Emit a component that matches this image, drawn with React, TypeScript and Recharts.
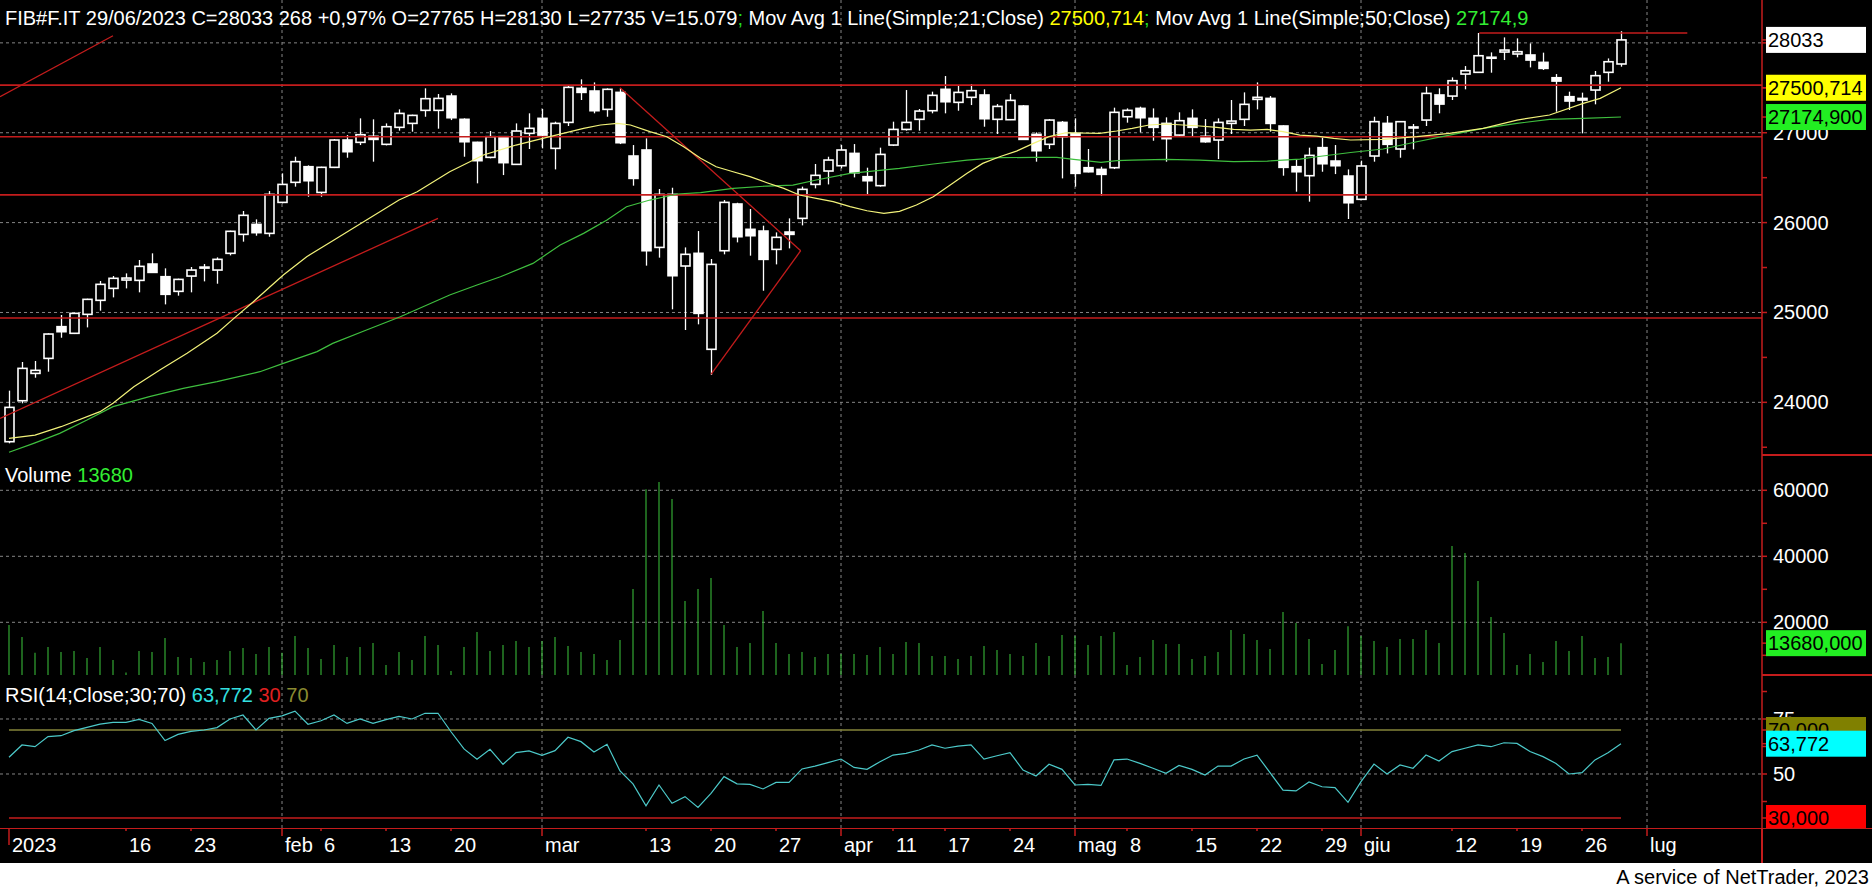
import React from 'react'
import { Bar, CartesianGrid, ComposedChart, Line, ReferenceLine, XAxis, YAxis } from 'recharts'

const FONT = "'Liberation Sans', Arial, sans-serif"
const RED = '#c41c1c'
const GRID = '#858585'
const YELLOW_MA = '#f2f27a'
const GREEN_MA = '#3fbf3f'
const VOL_GREEN = '#3cc83c'
const RSI_CYAN = '#4cc9c9'
const OLIVE = '#85853a'

const W = 1872
const AXIS_W = 110
const X_DOMAIN: [number, number] = [-0.6923, 134.846]

// daily OHLC, 3 Jan .. 29 Jun 2023
const OPEN = [
  23562, 24018, 24322, 24489, 24842, 24768, 24979, 25135, 25268, 25361,
  25357, 25539, 25398, 25235, 25405, 25500, 25472, 25658, 25869, 25980,
  25880, 26225, 26448, 26622, 26336, 26615, 26919, 26893, 26960, 26871,
  27060, 27104, 27249, 27249, 27408, 27149, 26893, 26726, 26956, 26648,
  26993, 27160, 26826, 27115, 27494, 27464, 27260, 27449, 26741, 26808,
  25724, 26314, 25517, 25658, 24590, 25687, 26207, 25925, 25906, 25702,
  25895, 26047, 26425, 26574, 26633, 26770, 26511, 26411, 26863, 27037,
  27149, 27245, 27483, 27338, 27394, 27420, 27149, 27145, 27297, 26982,
  26871, 27115, 26993, 26611, 26592, 26611, 27178, 27271, 27160, 27104,
  26974, 27160, 26960, 26919, 27104, 27149, 27371, 27382, 27075, 26622,
  26522, 26834, 26685, 26518, 26259, 26741, 27104, 26819, 27060, 27141,
  27420, 27408, 27653, 27672, 27836, 27898, 27876, 27865, 27783, 27612,
  27401, 27364, 27475, 27672, 27765,
]
const HIGH = [
  24130, 24449, 24460, 24768, 24972, 24997, 25153, 25350, 25406, 25435,
  25584, 25658, 25491, 25376, 25506, 25539, 25613, 25910, 26129, 26036,
  26351, 26548, 26733, 26637, 26622, 26930, 26974, 27160, 27149, 27104,
  27260, 27201, 27494, 27431, 27438, 27160, 26900, 27019, 26963, 27104,
  27216, 27264, 27123, 27520, 27594, 27560, 27494, 27494, 26863, 26937,
  26374, 26388, 25724, 25906, 25595, 26251, 26221, 26151, 25966, 25891,
  26047, 26400, 26652, 26733, 26863, 26874, 26611, 26834, 27123, 27475,
  27264, 27457, 27631, 27520, 27542, 27483, 27319, 27431, 27308, 27004,
  27152, 27130, 27160, 26819, 26622, 27279, 27271, 27290, 27271, 27171,
  27227, 27260, 27152, 27160, 27364, 27449, 27560, 27408, 27082, 26704,
  26834, 26945, 26863, 26592, 26689, 27178, 27186, 27130, 27097, 27512,
  27494, 27616, 27742, 28110, 27894, 28061, 28050, 27994, 27891, 27653,
  27457, 27446, 27687, 27827, 28130,
]
const LOW = [
  23544, 23989, 24274, 24341, 24719, 24760, 24834, 25020, 25168, 25268,
  25224, 25443, 25090, 25187, 25224, 25346, 25320, 25635, 25788, 25854,
  25843, 26214, 26400, 26288, 26288, 26607, 26722, 26863, 26678, 26859,
  27023, 27012, 27178, 27045, 27141, 26733, 26437, 26715, 26529, 26641,
  26819, 26826, 26592, 27075, 27364, 27216, 27178, 26874, 26411, 25521,
  25610, 25035, 24805, 24868, 24304, 25647, 25780, 25632, 25242, 25535,
  25713, 25969, 26381, 26425, 26604, 26503, 26314, 26400, 26852, 27023,
  27023, 27216, 27216, 27245, 27308, 27067, 26986, 27141, 26919, 26678,
  26819, 26492, 26400, 26559, 26299, 26596, 27112, 27004, 26911, 26678,
  26963, 26956, 26889, 26707, 26986, 27075, 27260, 27012, 26522, 26344,
  26233, 26566, 26540, 26040, 26251, 26678, 26770, 26722, 26815, 27075,
  27216, 27364, 27483, 27668, 27668, 27809, 27839, 27727, 27698, 27234,
  27253, 26993, 27316, 27568, 27735,
]
const CLOSE = [
  23944, 24378, 24356, 24760, 24786, 24990, 25146, 25313, 25380, 25383,
  25513, 25446, 25202, 25368, 25472, 25505, 25591, 25903, 26081, 25888,
  26314, 26425, 26678, 26466, 26615, 26919, 26789, 26978, 26926, 27067,
  27215, 27193, 27379, 27382, 27167, 26900, 26689, 26956, 26667, 27019,
  27049, 26974, 27104, 27505, 27449, 27245, 27483, 26889, 26492, 25687,
  26314, 25409, 25647, 24990, 25535, 26225, 25843, 25854, 25591, 25836,
  25869, 26370, 26526, 26696, 26808, 26555, 26466, 26759, 27037, 27115,
  27241, 27416, 27345, 27449, 27468, 27156, 27293, 27360, 26926, 26800,
  27141, 26956, 26548, 26566, 26537, 27227, 27249, 27167, 27060, 26934,
  27134, 27060, 26900, 27115, 27130, 27316, 27394, 27104, 26615, 26566,
  26748, 26655, 26633, 26221, 26630, 27123, 26871, 27123, 27064, 27438,
  27319, 27579, 27690, 27857, 27840, 27920, 27902, 27809, 27716, 27575,
  27353, 27382, 27635, 27790, 28033,
]
const VOLUME = [
  19180, 15550, 10800, 12520, 11000, 11310, 9180, 12520, 8580, 4800,
  11310, 11000, 15240, 9490, 9180, 7970, 8580, 11310, 12210, 10400,
  12520, 10800, 15850, 12210, 8880, 13120, 9490, 12520, 13730, 7060,
  11000, 8580, 15850, 13120, 5250, 12520, 17060, 11310, 13120, 14340,
  12520, 14340, 15550, 12820, 11000, 10400, 8580, 14640, 30090, 60300,
  62520, 57370, 26470, 30090, 33430, 19180, 12520, 13730, 23430, 13730,
  10400, 11000, 9490, 10400, 10400, 10400, 10090, 12520, 10400, 14030,
  13730, 9790, 9790, 8880, 9790, 12820, 11610, 10400, 9790, 13730,
  9790, 16150, 15850, 13120, 15850, 17060, 7060, 9490, 14640, 13430,
  13430, 8880, 9790, 11000, 17670, 16450, 14640, 11910, 23120, 19790,
  14940, 7360, 11610, 18780, 15850, 14340, 12520, 14940, 14940, 17670,
  13730, 43100, 40980, 32500, 21590, 16760, 7060, 10400, 7970, 14340,
  11310, 15850, 9180, 9490, 13680,
]
const RSI = [
  57.6, 63.2, 62.4, 67.0, 67.4, 69.7, 71.2, 72.7, 73.5, 73.5,
  74.8, 73.0, 65.2, 68.0, 69.4, 70.0, 71.1, 75.0, 76.8, 70.0,
  75.3, 76.4, 78.6, 72.6, 74.2, 76.8, 73.0, 75.0, 73.0, 74.7,
  76.2, 75.0, 77.6, 77.6, 69.2, 61.4, 56.7, 61.2, 54.4, 59.7,
  60.5, 58.5, 60.6, 66.7, 64.7, 60.0, 63.5, 51.4, 45.5, 35.5,
  45.0, 36.7, 39.7, 34.8, 41.2, 48.8, 45.5, 45.3, 43.2, 46.2,
  46.2, 52.3, 53.6, 55.2, 56.8, 53.0, 52.1, 55.6, 58.6, 59.4,
  60.9, 63.2, 61.7, 62.7, 63.2, 56.8, 58.3, 59.7, 51.8, 49.1,
  54.4, 52.1, 45.0, 45.3, 44.8, 56.4, 56.8, 54.8, 52.6, 50.3,
  53.9, 52.1, 49.5, 53.6, 53.6, 56.8, 58.6, 50.6, 42.7, 42.3,
  46.4, 44.2, 43.8, 37.1, 46.5, 54.5, 50.0, 54.1, 52.6, 58.6,
  55.9, 60.2, 61.7, 63.2, 62.4, 64.2, 63.9, 60.2, 57.9, 54.8,
  50.0, 50.6, 56.4, 59.7, 63.772,
]

// moving averages: [bar index, value]
const MA21: [number, number][] = [
  [0, 23599], [2, 23636], [4, 23729], [7, 23896], [8, 23989], [9.6, 24174], [11.6, 24360],
  [13.7, 24545], [16, 24768], [17.3, 24934], [18.8, 25120], [21.1, 25417], [22.9, 25621],
  [25, 25806], [27.5, 26029], [30, 26251], [31.4, 26344], [33.9, 26566], [36.5, 26752],
  [39, 26863], [41.6, 26956], [44.2, 27049], [45.5, 27086], [46.8, 27104], [47.8, 27086],
  [49.3, 27012], [50.6, 26956], [51.9, 26845], [53.2, 26715], [54.4, 26622], [55.7, 26566],
  [57, 26511], [58.3, 26444], [59.6, 26381], [60.8, 26307], [62.1, 26270], [63.4, 26233],
  [64.7, 26177], [66, 26132], [67.3, 26103], [68.5, 26125], [69.8, 26196], [71.1, 26288],
  [72.4, 26418], [73.7, 26548], [74.9, 26659], [76.2, 26733], [77.5, 26796], [78.8, 26882],
  [80, 26956], [81.3, 27000], [83.9, 26993], [85.2, 27019], [86.4, 27049], [87.7, 27086],
  [89, 27097], [90.3, 27086], [91.6, 27075], [92.9, 27060], [94.2, 27037], [95.5, 27030],
  [96.8, 27037], [98, 27012], [99.3, 26974], [100.6, 26963], [101.9, 26937], [103.2, 26919],
  [105.7, 26926], [108.3, 26956], [110.8, 26993], [113.4, 27049], [116, 27141], [118.5, 27197],
  [121.1, 27327], [122.4, 27382], [124, 27500.714],
]
const MA50: [number, number][] = [
  [0, 23444], [1.9, 23544], [3.9, 23655], [6, 23803], [8, 23952], [10.8, 24063], [13.4, 24156],
  [16, 24230], [19.3, 24341], [21.1, 24434], [23.7, 24564], [24.9, 24656], [27.5, 24805],
  [30.1, 24953], [33.9, 25194], [36, 25305], [37.8, 25398], [40.3, 25546], [42.4, 25750],
  [44.2, 25880], [46, 26029], [47.5, 26177], [49.3, 26251], [51.4, 26318], [53.2, 26333],
  [55.7, 26381], [58.3, 26407], [60.3, 26418], [62.1, 26474], [64.7, 26548], [68.5, 26603],
  [71.1, 26652], [73.7, 26696], [76.2, 26722], [78.8, 26726], [80.6, 26726], [81.9, 26704],
  [84, 26670], [85.2, 26689], [86.4, 26696], [89, 26704], [91.6, 26696], [94.2, 26678],
  [96.8, 26685], [98, 26696], [99.3, 26707], [100.6, 26733], [103.2, 26780], [105.7, 26819],
  [108.3, 26900], [110.8, 26974], [113.4, 27049], [116, 27104], [118.5, 27149], [121.1, 27160],
  [124, 27174.9],
]

// hand drawn studies on the price panel
const LEVELS = [27530, 26956, 26308, 24938]
const TREND_SEGMENTS: [number, number, number, number][] = [
  [-0.69, 27401, 8, 28079],
  [-0.69, 23822, 33, 26048],
  [47, 27501, 60.9, 25687],
  [60.9, 25687, 54, 24312],
  [113.1, 28110, 129.1, 28110],
]

const PRICE_TICKS = [23500, 24000, 24500, 25000, 25500, 26000, 26500, 27000, 27500, 28000]
const PRICE_LABELS = [24000, 25000, 26000, 27000, 28000]
const VOL_TICKS = [10000, 20000, 30000, 40000, 50000, 60000]
const VOL_LABELS = [20000, 40000, 60000]
const RSI_TICKS = [37.5, 50, 62.5, 75, 87.5]
const RSI_LABELS = [50, 75]

// last-value boxes on the right axis: [value, text, colour]
const PRICE_BOXES: [number, string, string][] = [
  [28033, '28033', '#ffffff'],
  [27500.714, '27500,714', '#ffff00'],
  [27174.9, '27174,900', '#22ee22'],
]
const VOL_BOXES: [number, string, string][] = [[13680, '13680,000', '#22ee22']]
const RSI_BOXES: [number, string, string][] = [
  [70, '70,000', '#808000'],
  [63.772, '63,772', '#00ffff'],
  [30, '30,000', '#ff0000'],
]

const MONTH_IDX = [21, 41, 64, 82, 104, 126]
const X_TICK_IDX = [0, 9, 14, 21, 24, 29, 34, 41, 49, 54, 59, 64, 68, 72, 77, 82, 86, 91, 96, 101, 104, 111, 116, 121, 126]
const X_TICK_LABELS = ['2023', '16', '23', 'feb', '6', '13', '20', 'mar', '13', '20', '27', 'apr', '11', '17', '24', 'mag', '8', '15', '22', '29', 'giu', '12', '19', '26', 'lug']

const candles = OPEN.map((o, i) => ({ i, o, h: HIGH[i], l: LOW[i], c: CLOSE[i] }))
const volumes = VOLUME.map((v, i) => ({ i, v }))
const rsiData = RSI.map((r, i) => ({ i, r }))
const ma21Data = MA21.map(([i, v]) => ({ i, v }))
const ma50Data = MA50.map(([i, v]) => ({ i, v }))
const lastIdx = CLOSE.length - 1

function Candle(props: any) {
  const { x, y, width, height, payload } = props
  if (!payload || height == null) return <g />
  const { o, h, l, c } = payload
  const yTop = Math.min(y, y + height)
  const hh = Math.abs(height)
  const cx = Math.round(x + width / 2) + 0.5
  const k = hh / (h - l)
  const py = (v: number) => yTop + (h - v) * k
  const top = py(Math.max(o, c))
  const bot = py(Math.min(o, c))
  return (
    <g>
      <line x1={cx} x2={cx} y1={yTop} y2={yTop + hh} stroke="#fff" strokeWidth={1.3} />
      <rect x={cx - 4.5} y={top} width={9} height={Math.max(bot - top, 1)}
        fill={c >= o ? '#000' : '#fff'} stroke="#fff" strokeWidth={1.6} />
    </g>
  )
}

// right-axis tick: plain label, last-value box, or nothing (minor tick)
function makeTick(labels: number[], boxes: [number, string, string][], plotBottom?: number) {
  return (props: any) => {
    const { x, y, payload } = props
    const box = boxes.find((b) => b[0] === payload.value)
    if (box) {
      const top = y - 13
      const h = plotBottom != null ? Math.min(26, plotBottom - top) : 26
      return (
        <g>
          <rect x={x - 3} y={top} width={100} height={h} fill={box[2]} />
          <text x={x - 1} y={y + 7} fill="#000" fontSize={20} fontFamily={FONT}>{box[1]}</text>
        </g>
      )
    }
    if (!labels.includes(payload.value)) return <g />
    return (
      <text x={x + 4} y={y + 7} fill="#fff" fontSize={20} fontFamily={FONT}>{payload.value}</text>
    )
  }
}

function DateTick(props: any) {
  const { x, y, payload } = props
  const k = X_TICK_IDX.indexOf(payload.value)
  const label = X_TICK_LABELS[k]
  const len = k === 0 ? 17 : MONTH_IDX.includes(payload.value) ? 8 : 3
  return (
    <g>
      <line x1={x} x2={x} y1={y} y2={y + len} stroke={RED} strokeWidth={1.5} />
      <text x={x + 3} y={y + 24} fill="#fff" fontSize={20} fontFamily={FONT}>{label}</text>
    </g>
  )
}

const axisProps = {
  orientation: 'right' as const,
  width: AXIS_W,
  interval: 0,
  allowDataOverflow: true,
  axisLine: { stroke: RED, strokeWidth: 1.5 },
  tickLine: { stroke: RED, strokeWidth: 1.5 },
  tickSize: 5,
}
const margin = { top: 0, right: 0, bottom: 0, left: 0 }

function PriceChart() {
  return (
    <ComposedChart width={W} height={455} data={candles} margin={margin}>
      <CartesianGrid stroke={GRID} strokeDasharray="3 3" horizontalValues={PRICE_LABELS} verticalValues={MONTH_IDX} />
      <XAxis type="number" dataKey="i" domain={X_DOMAIN} allowDataOverflow hide />
      <YAxis {...axisProps} domain={[23414, 28477]} ticks={[...PRICE_TICKS, ...PRICE_BOXES.map((b) => b[0])]}
        tick={makeTick(PRICE_LABELS, PRICE_BOXES)} />
      {LEVELS.map((v) => (
        <ReferenceLine key={v} y={v} stroke={RED} strokeWidth={1.6} />
      ))}
      <Bar dataKey={(d: any) => [d.l, d.h]} barSize={9} shape={<Candle />} isAnimationActive={false} />
      {TREND_SEGMENTS.map(([x1, y1, x2, y2], k) => (
        <ReferenceLine key={k} segment={[{ x: x1, y: y1 }, { x: x2, y: y2 }]} stroke={RED} strokeWidth={1.3} />
      ))}
      <Line data={ma50Data} dataKey="v" stroke={GREEN_MA} strokeWidth={1.2} dot={false} activeDot={false} isAnimationActive={false} />
      <Line data={ma21Data} dataKey="v" stroke={YELLOW_MA} strokeWidth={1.2} dot={false} activeDot={false} isAnimationActive={false} />
    </ComposedChart>
  )
}

function VolumeChart() {
  return (
    <ComposedChart width={W} height={220} data={volumes} margin={margin}>
      <CartesianGrid stroke={GRID} strokeDasharray="3 3" horizontalValues={VOL_LABELS} verticalValues={MONTH_IDX} />
      <XAxis type="number" dataKey="i" domain={X_DOMAIN} allowDataOverflow hide />
      <YAxis {...axisProps} domain={[4030, 70700]} ticks={[...VOL_TICKS, ...VOL_BOXES.map((b) => b[0])]}
        tick={makeTick(VOL_LABELS, VOL_BOXES)} />
      <Bar dataKey="v" barSize={1} fill={VOL_GREEN} isAnimationActive={false} activeBar={false} />
    </ComposedChart>
  )
}

function RsiChart() {
  return (
    <ComposedChart width={W} height={188} data={rsiData} margin={margin}>
      <CartesianGrid stroke={GRID} strokeDasharray="3 3" horizontalValues={RSI_LABELS} verticalValues={MONTH_IDX} />
      <XAxis type="number" dataKey="i" domain={X_DOMAIN} allowDataOverflow height={35} ticks={X_TICK_IDX}
        interval={0} axisLine={false} tickLine={false} tickSize={0} tickMargin={0} tick={<DateTick />} />
      <YAxis {...axisProps} domain={[25.45, 95]} ticks={[...RSI_TICKS, ...RSI_BOXES.map((b) => b[0])]}
        tick={makeTick(RSI_LABELS, RSI_BOXES, 153)} />
      <ReferenceLine segment={[{ x: 0, y: 70 }, { x: lastIdx, y: 70 }]} stroke={OLIVE} strokeWidth={1.5} />
      <ReferenceLine segment={[{ x: 0, y: 30 }, { x: lastIdx, y: 30 }]} stroke={RED} strokeWidth={1.5} />
      <Line dataKey="r" stroke={RSI_CYAN} strokeWidth={1.2} dot={false} activeDot={false} isAnimationActive={false} />
    </ComposedChart>
  )
}

export default function App() {
  const abs = (top: number): React.CSSProperties => ({ position: 'absolute', left: 0, top })
  return (
    <div style={{ position: 'absolute', left: 0, top: 0, width: W, height: 888, background: '#fff', overflow: 'hidden' }}>
      <div style={{ position: 'absolute', left: 0, top: 0, width: W, height: 863, background: '#000' }} />
      <div style={abs(0)}><PriceChart /></div>
      <div style={abs(455)}><VolumeChart /></div>
      <div style={abs(675)}><RsiChart /></div>
      {/* panel borders */}
      <div style={{ position: 'absolute', left: 1762, top: 454, width: 110, height: 1.5, background: RED }} />
      <div style={{ position: 'absolute', left: 1762, top: 674, width: 110, height: 1.5, background: RED }} />
      <div style={{ position: 'absolute', left: 0, top: 827.5, width: W, height: 1.5, background: RED }} />
      <div style={{ position: 'absolute', left: 1761.2, top: 828, width: 1.5, height: 35, background: RED }} />
      <svg width={W} height={888} style={{ position: 'absolute', left: 0, top: 0, pointerEvents: 'none' }}>
        <text x={5} y={25} fontSize={20} fontFamily={FONT} style={{ whiteSpace: 'pre' }}>
          <tspan fill="#fff">FIB#F.IT 29/06/2023 C=28033 268 +0,97% O=27765 H=28130 L=27735 V=15.079</tspan>
          <tspan fill="#22dd22">; </tspan>
          <tspan fill="#fff">Mov Avg 1 Line(Simple;21;Close) </tspan>
          <tspan fill="#ffff00">27500,714</tspan>
          <tspan fill="#22dd22">; </tspan>
          <tspan fill="#fff">Mov Avg 1 Line(Simple;50;Close) </tspan>
          <tspan fill="#33ee33">27174,9</tspan>
        </text>
        <text x={5} y={482} fontSize={20} fontFamily={FONT} style={{ whiteSpace: 'pre' }}>
          <tspan fill="#fff">Volume </tspan>
          <tspan fill="#33ee33">13680</tspan>
        </text>
        <text x={5} y={702} fontSize={20} fontFamily={FONT} style={{ whiteSpace: 'pre' }}>
          <tspan fill="#fff">RSI(14;Close;30;70) </tspan>
          <tspan fill="#33e0e0">63,772 </tspan>
          <tspan fill="#e02020">30 </tspan>
          <tspan fill="#8a8a30">70</tspan>
        </text>
        <text x={1869} y={884} fontSize={20} fontFamily={FONT} fill="#000" textAnchor="end">
          A service of NetTrader, 2023
        </text>
      </svg>
    </div>
  )
}
